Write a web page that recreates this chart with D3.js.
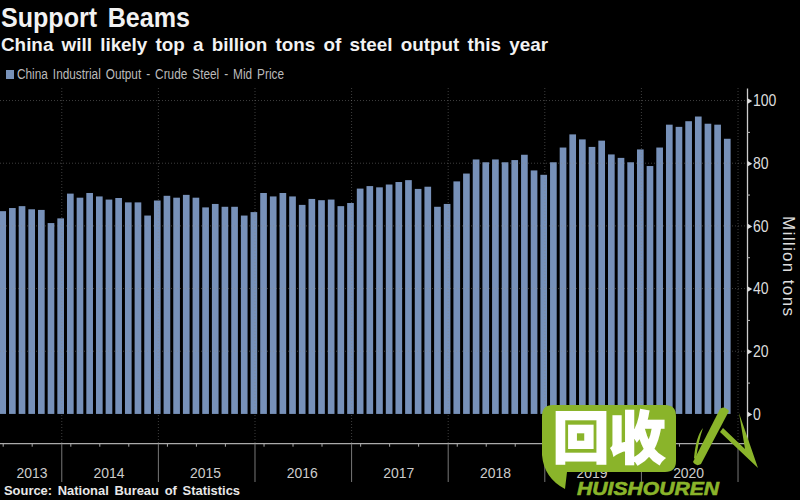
<!DOCTYPE html>
<html>
<head>
<meta charset="utf-8" />
<title>Support Beams</title>
<script src="https://d3js.org/d3.v7.min.js"></script>
<style>
  html, body { margin: 0; padding: 0; background: #000; }
  svg { display: block; }
  text { font-family: "Liberation Sans", sans-serif; fill: #ddd; }
</style>
</head>
<body>
<div id="chart"></div>
<script>
// crude steel output, million tons (no separate Jan / Feb prints, so 10 a year)
const output = [
  64.7, 65.7, 66.3, 65.3, 65.1, 60.9, 62.4,
  70.3, 69.0, 70.5, 69.4, 68.4, 68.9, 67.5, 67.5, 63.3, 68.1,
  69.6, 69.0, 69.9, 69.0, 65.9, 67.0, 66.1, 66.1, 63.3, 64.4,
  70.5, 69.4, 70.5, 69.4, 66.7, 68.6, 68.2, 68.4, 66.3, 67.3,
  71.9, 72.7, 72.3, 73.2, 74.0, 74.6, 71.8, 72.5, 66.1, 67.0,
  74.2, 76.7, 81.2, 80.3, 81.2, 80.3, 81.0, 82.7, 77.7, 76.3,
  80.3, 85.0, 89.2, 87.6, 85.2, 87.2, 82.8, 81.7, 80.3, 84.4,
  79.1, 85.0, 92.3, 91.6, 93.4, 94.9, 92.6, 92.3, 87.8
];
const years = ['2013', '2014', '2015', '2016', '2017', '2018', '2019', '2020'];
const yearEnds = [6, 16, 26, 36, 46, 56, 66, 76];
const quarterTicks = [0, 3, 7, 10, 13, 17, 20, 23, 27, 30, 33, 37, 40, 43, 47, 50, 53, 57, 60, 63, 67, 70, 73];
const majorTicks = [0, 20, 40, 60, 80, 100];
const minorTicks = [10, 30, 50, 70, 90];

const width = 800;
const height = 500;
const plotTop = 88;
const plotBottom = 443.7;
const axisX = 747;
const barColor = '#7791b9';
const green = '#8ab42a';

const svg = d3.select('#chart')
  .append('svg')
  .attr('width', width)
  .attr('height', height)
  .style('background', '#000');

// titles
svg.append('text').attr('x', 1).attr('y', 27)
  .style('font-size', '27px').style('font-weight', 700).style('fill', '#f2f2f2')
  .style('word-spacing', '4px')
  .attr('textLength', 189).attr('lengthAdjust', 'spacingAndGlyphs')
  .text('Support Beams');
svg.append('text').attr('x', 1).attr('y', 51)
  .style('font-size', '19px').style('font-weight', 700).style('fill', '#f2f2f2')
  .style('word-spacing', '3px')
  .attr('textLength', 547).attr('lengthAdjust', 'spacingAndGlyphs')
  .text('China will likely top a billion tons of steel output this year');

// legend
svg.append('rect').attr('x', 6).attr('y', 70).attr('width', 8).attr('height', 9).attr('fill', barColor);
svg.append('text').attr('x', 17).attr('y', 79)
  .style('font-size', '14px').style('fill', '#bbb')
  .style('word-spacing', '2px')
  .attr('textLength', 267).attr('lengthAdjust', 'spacingAndGlyphs')
  .text('China Industrial Output - Crude Steel - Mid Price');

// scales
const x = d3.scaleBand()
  .domain(d3.range(output.length))
  .range([-2.13, 732.1])
  .paddingInner(0.31)
  .paddingOuter(0.155);
const xTick = d3.scaleLinear()
  .domain([0, 76])
  .range([x(0) + x.bandwidth() / 2, x(0) + x.bandwidth() / 2 + x.step() * 76]);
const y = d3.scaleLinear()
  .domain([-9.5, 104])
  .range([plotBottom, plotTop]);

// bars
svg.append('g').selectAll('rect')
  .data(output)
  .enter()
  .append('rect')
  .attr('x', (d, i) => x(i))
  .attr('y', d => y(d))
  .attr('width', x.bandwidth())
  .attr('height', d => y(0) - y(d))
  .attr('fill', barColor);

// dotted grid, faint over the bars
const grid = svg.append('g')
  .attr('stroke', '#8a8a8a')
  .attr('stroke-opacity', 0.45)
  .attr('stroke-dasharray', '1,2');
grid.selectAll('.h')
  .data(majorTicks.slice(1))
  .enter().append('line')
  .attr('x1', 0).attr('x2', axisX)
  .attr('y1', d => y(d)).attr('y2', d => y(d));
grid.selectAll('.v')
  .data(yearEnds)
  .enter().append('line')
  .attr('x1', d => xTick(d) + 1.1).attr('x2', d => xTick(d) + 1.1)
  .attr('y1', plotTop).attr('y2', plotBottom);

// right axis
const yAxis = svg.append('g')
  .attr('transform', `translate(${axisX},0)`)
  .call(d3.axisRight(y).tickValues(majorTicks).tickSize(0).tickPadding(6));
yAxis.select('.domain').attr('stroke', '#ccc').attr('stroke-width', 1.3);
yAxis.selectAll('text')
  .style('font-size', '16px').style('fill', '#ddd')
  .attr('textLength', d => String(d).length * 7.8)
  .attr('lengthAdjust', 'spacingAndGlyphs');
yAxis.selectAll('.tick').append('path')
  .attr('d', d3.symbol(d3.symbolTriangle, 14))
  .attr('transform', 'translate(2,0) rotate(90)')
  .attr('fill', '#ddd');
svg.append('g')
  .attr('transform', `translate(${axisX},0)`)
  .call(d3.axisRight(y).tickValues(minorTicks).tickSize(3).tickFormat(''))
  .call(g => g.select('.domain').remove())
  .selectAll('line').attr('stroke', '#bbb');

svg.append('text')
  .attr('transform', `translate(783,216) rotate(90)`)
  .style('font-size', '17px').style('fill', '#ddd')
  .attr('textLength', 100)
  .text('Million tons');

// bottom axis
const xAxis = svg.append('g')
  .attr('transform', `translate(0,${plotBottom})`)
  .call(d3.axisBottom(xTick).tickValues(quarterTicks).tickSize(3).tickFormat(''));
xAxis.select('.domain').remove();
xAxis.selectAll('line').attr('stroke', '#aaa');
svg.append('line')
  .attr('x1', 0).attr('x2', axisX)
  .attr('y1', plotBottom).attr('y2', plotBottom)
  .attr('stroke', '#aaa').attr('stroke-width', 1.2);

svg.append('g').selectAll('line')
  .data(yearEnds)
  .enter().append('line')
  .attr('x1', d => xTick(d) + 1.1).attr('x2', d => xTick(d) + 1.1)
  .attr('y1', plotBottom).attr('y2', 482)
  .attr('stroke', '#777');

svg.append('g').selectAll('text')
  .data(years)
  .enter().append('text')
  .attr('x', (d, i) => i === 0 ? 16.5 : (xTick(yearEnds[i - 1]) + xTick(yearEnds[i])) / 2 - 15.5)
  .attr('y', 478)
  .style('font-size', '15.5px').style('fill', '#ccc')
  .attr('textLength', 31).attr('lengthAdjust', 'spacingAndGlyphs')
  .text(d => d);

svg.append('text').attr('x', 4).attr('y', 495)
  .style('font-size', '12px').style('font-weight', 700).style('fill', '#e8e8e8')
  .style('word-spacing', '2px')
  .attr('textLength', 236).attr('lengthAdjust', 'spacingAndGlyphs')
  .text('Source: National Bureau of Statistics');

// site watermark stamped over the picture
const stamp = svg.append('g');
stamp.append('path')
  .attr('d', 'M553,405 H665 Q676,405 676,416 V461 Q676,472 665,472 H567 L565,489 Q544,478 542,455 V416 Q542,405 553,405 Z')
  .attr('fill', green);
stamp.append('text').attr('x', 553).attr('y', 458)
  .style('font-family', '"Noto Sans CJK SC"').style('font-size', '56px').style('font-weight', 700)
  .style('fill', '#fff').style('stroke', '#fff').style('stroke-width', 2.5)
  .attr('textLength', 112)
  .text('回收');
stamp.append('text').attr('x', 577).attr('y', 495)
  .style('font-size', '19px').style('font-weight', 700).style('font-style', 'italic').style('fill', green)
  .style('stroke', green).style('stroke-width', 0.6)
  .attr('textLength', 142).attr('lengthAdjust', 'spacingAndGlyphs')
  .text('HUISHOUREN');
stamp.append('path')
  .attr('d', 'M693,462 L720,409 Q724,405 729,411 L701,464 Q696,467 693,462 Z')
  .attr('fill', green);
stamp.append('path')
  .attr('d', 'M720,432 L723,428 L745,449 L739,413 L758,468 Z')
  .attr('fill', green);
stamp.append('path')
  .attr('d', 'M694,458 Q696,436 703,428 Q698,442 696,460 Z')
  .attr('fill', green);
</script>
</body>
</html>
